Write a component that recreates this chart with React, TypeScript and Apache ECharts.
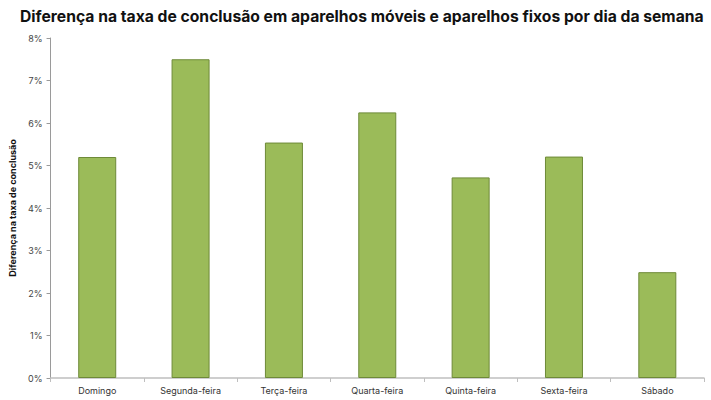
import React, { useEffect, useRef } from "react";
import * as echarts from "echarts";

const categories = ["Domingo", "Segunda-feira", "Terça-feira", "Quarta-feira", "Quinta-feira", "Sexta-feira", "Sábado"];
const values = [5.2, 7.5, 5.54, 6.25, 4.72, 5.21, 2.49];
const yTicks = [0, 1, 2, 3, 4, 5, 6, 7, 8];

export default function App() {
  const ref = useRef<HTMLDivElement>(null);
  useEffect(() => {
    if (!ref.current) return;
    const chart = echarts.init(ref.current, null, { renderer: "svg" });
    chart.setOption({
      animation: false,
      backgroundColor: "#ffffff",
      title: {
        text: "Diferença na taxa de conclusão em aparelhos móveis e aparelhos fixos por dia da semana",
        left: 15,
        top: 3,
        textStyle: { fontFamily: "Inter", fontSize: 15.7, fontWeight: "bold", color: "#111111" },
      },
      grid: { left: 43, right: 7, top: 38, bottom: 22 },
      xAxis: {
        type: "category",
        data: categories,
        axisLine: { lineStyle: { color: "#bfbfbf", width: 1.5 } },
        axisTick: { show: true, interval: 0, length: 4, lineStyle: { color: "#bfbfbf" } },
        axisLabel: { fontFamily: "Inter", fontSize: 9, color: "#333333", margin: 8 },
      },
      yAxis: {
        type: "value",
        min: yTicks[0],
        max: yTicks[yTicks.length - 1],
        interval: 1,
        name: "Diferença na taxa de conclusão",
        nameLocation: "middle",
        nameGap: 24,
        nameTextStyle: { fontFamily: "Inter", fontSize: 9, fontWeight: "bold", color: "#111111" },
        axisLine: { show: true, lineStyle: { color: "#9a9a9a" } },
        axisTick: { show: true, length: 4, lineStyle: { color: "#9a9a9a" } },
        splitLine: { show: false },
        axisLabel: { fontFamily: "Inter", fontSize: 9, color: "#444444", margin: 8, formatter: "{value}%" },
      },
      series: [
        {
          type: "bar",
          data: values,
          barWidth: 38,
          itemStyle: { color: "#9BBB59", borderColor: "#6E8A38", borderWidth: 1 },
        },
      ],
    });
    return () => chart.dispose();
  }, []);
  return <div ref={ref} style={{ position: "absolute", left: 0, top: 0, width: 711, height: 400 }} />;
}
